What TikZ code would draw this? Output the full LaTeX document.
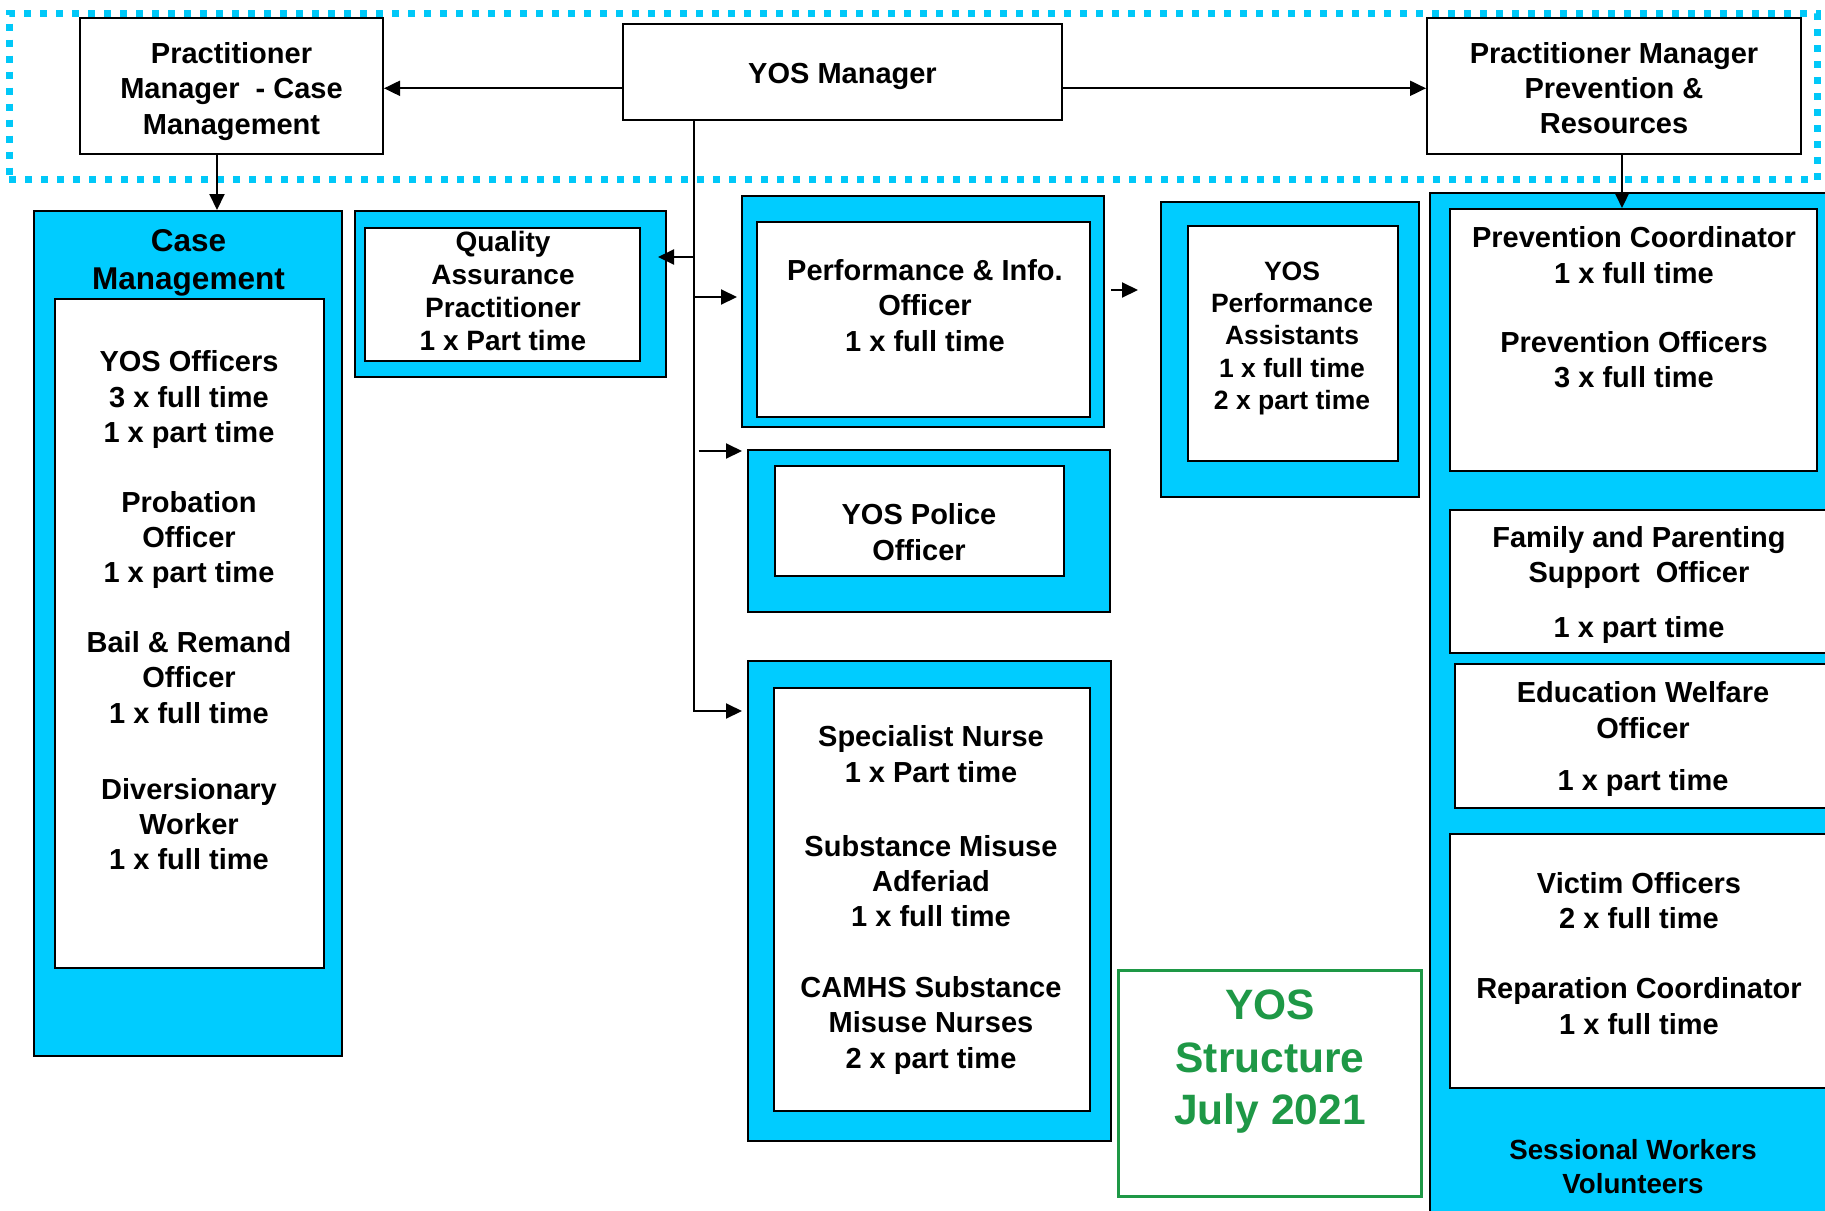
\documentclass[tikz,border=0pt]{standalone}
\usepackage{fontspec}
\setmainfont{Liberation Sans}
\usetikzlibrary{arrows.meta,fit}
\definecolor{cyanfill}{HTML}{00CCFF}
\definecolor{dotcyan}{HTML}{00C8F8}
\definecolor{titlegreen}{RGB}{30,152,70}
\begin{document}
\begin{tikzpicture}[x=1pt,y=-1pt,
  frame/.style={draw=black,line width=2pt,fill=cyanfill,inner sep=0pt},
  wbox/.style={draw=black,line width=2pt,fill=white,inner sep=0pt},
  band/.style={draw=dotcyan,line width=7pt,dash pattern=on 7pt off 9pt,inner sep=0pt},
  txt/.style={font=\bfseries\fontsize{29}{35.3}\selectfont,align=center,inner sep=0pt},
  dsc/.style={yshift=-3.5pt},
  arr/.style={draw=black,line width=2pt,-{Triangle[length=16pt,width=15pt]}},
  ln/.style={draw=black,line width=2pt}
]
\useasboundingbox (0,0) rectangle (1825,1210);
\clip (0,0) rectangle (1825,1210);
\fill[white] (0,0) rectangle (1825,1210);

% management band
\node[band, fit={(9,13.5) (1817,179.5)}] (band) {};

% top boxes
\node[wbox, fit={(80,18) (383,154)}] (pmcase) {};
\node[txt, dsc] (pmcaseT) at (231.5,88) {Practitioner\\Manager\ \ - Case\\Management};
\node[wbox, fit={(623,24) (1062,120)}] (mgr) {};
\node[txt, dsc] (mgrT) at (842.5,73) {YOS Manager};
\node[wbox, fit={(1427,18) (1801,154)}] (pmprev) {};
\node[txt] (pmprevT) at (1614,88) {Practitioner Manager\\Prevention \&\\Resources};

% Case Management
\node[frame, fit={(34,211) (342,1056)}] (caseO) {};
\node[txt, dsc, font=\bfseries\fontsize{31.5}{38}\selectfont] (caseTitle) at (188.5,259) {Case\\Management};
\node[wbox, fit={(55,299) (324,968)}] (caseI) {};
\node[txt, dsc] (case1) at (189,396) {YOS Officers\\3 x full time\\1 x part time};
\node[txt, dsc] (case2) at (189,536.6) {Probation\\Officer\\1 x part time};
\node[txt] (case3) at (189,677.4) {Bail \& Remand\\Officer\\1 x full time};
\node[txt] (case4) at (189,824) {Diversionary\\Worker\\1 x full time};

% Quality Assurance
\node[frame, fit={(355,211) (666,377)}] (qaO) {};
\node[wbox, fit={(365,228) (640,361)}] (qaI) {};
\node[txt, font=\bfseries\fontsize{28}{33.3}\selectfont] (qaT) at (503,291) {Quality\\Assurance\\Practitioner\\1 x Part time};

% Performance & Info
\node[frame, fit={(742,196) (1104,427)}] (perfO) {};
\node[wbox, fit={(757,222) (1090,417)}] (perfI) {};
\node[txt] (perfT) at (925,305.6) {Performance \& Info.\\Officer\\1 x full time};

% Police
\node[frame, fit={(748,450) (1110,612)}] (polO) {};
\node[wbox, fit={(775,466) (1064,576)}] (polI) {};
\node[txt] (polT) at (919,532) {YOS Police\\Officer};

% Specialist
\node[frame, fit={(748,661) (1111,1141)}] (specO) {};
\node[wbox, fit={(774,688) (1090,1111)}] (specI) {};
\node[txt] (spec1) at (931,754.2) {Specialist Nurse\\1 x Part time};
\node[txt] (spec2) at (931,881.1) {Substance Misuse\\Adferiad\\1 x full time};
\node[txt, dsc] (spec3) at (931,1021.9) {CAMHS Substance\\Misuse Nurses\\2 x part time};

% Performance Assistants
\node[frame, fit={(1161,202) (1419,497)}] (paO) {};
\node[wbox, fit={(1188,226) (1398,461)}] (paI) {};
\node[txt, dsc, font=\bfseries\fontsize{26.5}{32.3}\selectfont] (paT) at (1292,334.7) {YOS\\Performance\\Assistants\\1 x full time\\2 x part time};

% Title
\node[draw=titlegreen, line width=3pt, inner sep=0pt, fit={(1118,970) (1421,1196)}] (title) {};
\node[txt, text=titlegreen, font=\bfseries\fontsize{42.5}{52.5}\selectfont, yshift=-5pt] (titleT) at (1270,1057) {YOS\\Structure\\July 2021};

% Right column
\node[frame, fit={(1430,193) (1850,1240)}] (rightO) {};
\node[wbox, fit={(1450,209) (1817,471)}] (pc) {};
\node[txt] (pc1) at (1634,255) {Prevention Coordinator\\1 x full time};
\node[txt] (pc2) at (1634,359.6) {Prevention Officers\\3 x full time};
\node[wbox, fit={(1450,510) (1850,653)}] (fam) {};
\node[txt, yshift=-2pt] (fam1) at (1639,555.7) {Family and Parenting\\Support\ \ Officer};
\node[txt, dsc] (fam2) at (1639,626.2) {1 x part time};
\node[wbox, fit={(1455,664) (1850,808)}] (edu) {};
\node[txt] (edu1) at (1643,710) {Education Welfare\\Officer};
\node[txt, yshift=-2pt] (edu2) at (1643,781) {1 x part time};
\node[wbox, fit={(1450,834) (1850,1088)}] (vic) {};
\node[txt] (vic1) at (1639,900.9) {Victim Officers\\2 x full time};
\node[txt] (vic2) at (1639,1006) {Reparation Coordinator\\1 x full time};
\node[txt, font=\bfseries\fontsize{27.7}{34}\selectfont] (sess) at (1633,1167) {Sessional Workers\\Volunteers};

% connectors
\coordinate (cax) at (217,0);
\coordinate (pax) at (1622,0);
\coordinate (trunk) at (694,0);
\coordinate (trunk2) at (698.5,0);
\coordinate (ytop) at (0,88.3);
\coordinate (yqa) at (0,257);
\coordinate (yperf) at (0,297);
\coordinate (ypol) at (0,451);
\coordinate (yspec) at (0,711);
\coordinate (ypa) at (0,290);

\draw[arr] (mgr.west |- ytop) -- (pmcase.east |- ytop);
\draw[arr] (mgr.east |- ytop) -- (pmprev.west |- ytop);
\draw[arr] (cax |- pmcase.south) -- (cax |- caseO.north);
\draw[arr] (pax |- pmprev.south) -- (pax |- pc.north);
\draw[arr, shorten >=5pt] (trunk |- mgr.south) |- (specO.west |- yspec);
\draw[arr, shorten >=-9pt] (trunk |- yqa) -- (qaO.east |- yqa);
\draw[arr, shorten >=4pt] (trunk |- yperf) -- (perfO.west |- yperf);
\draw[arr, shorten >=5pt] (trunk2 |- ypol) -- (polO.west |- ypol);
\draw[arr, shorten <=6pt, shorten >=22pt] (perfO.east |- ypa) -- (paO.west |- ypa);
\end{tikzpicture}
\end{document}
